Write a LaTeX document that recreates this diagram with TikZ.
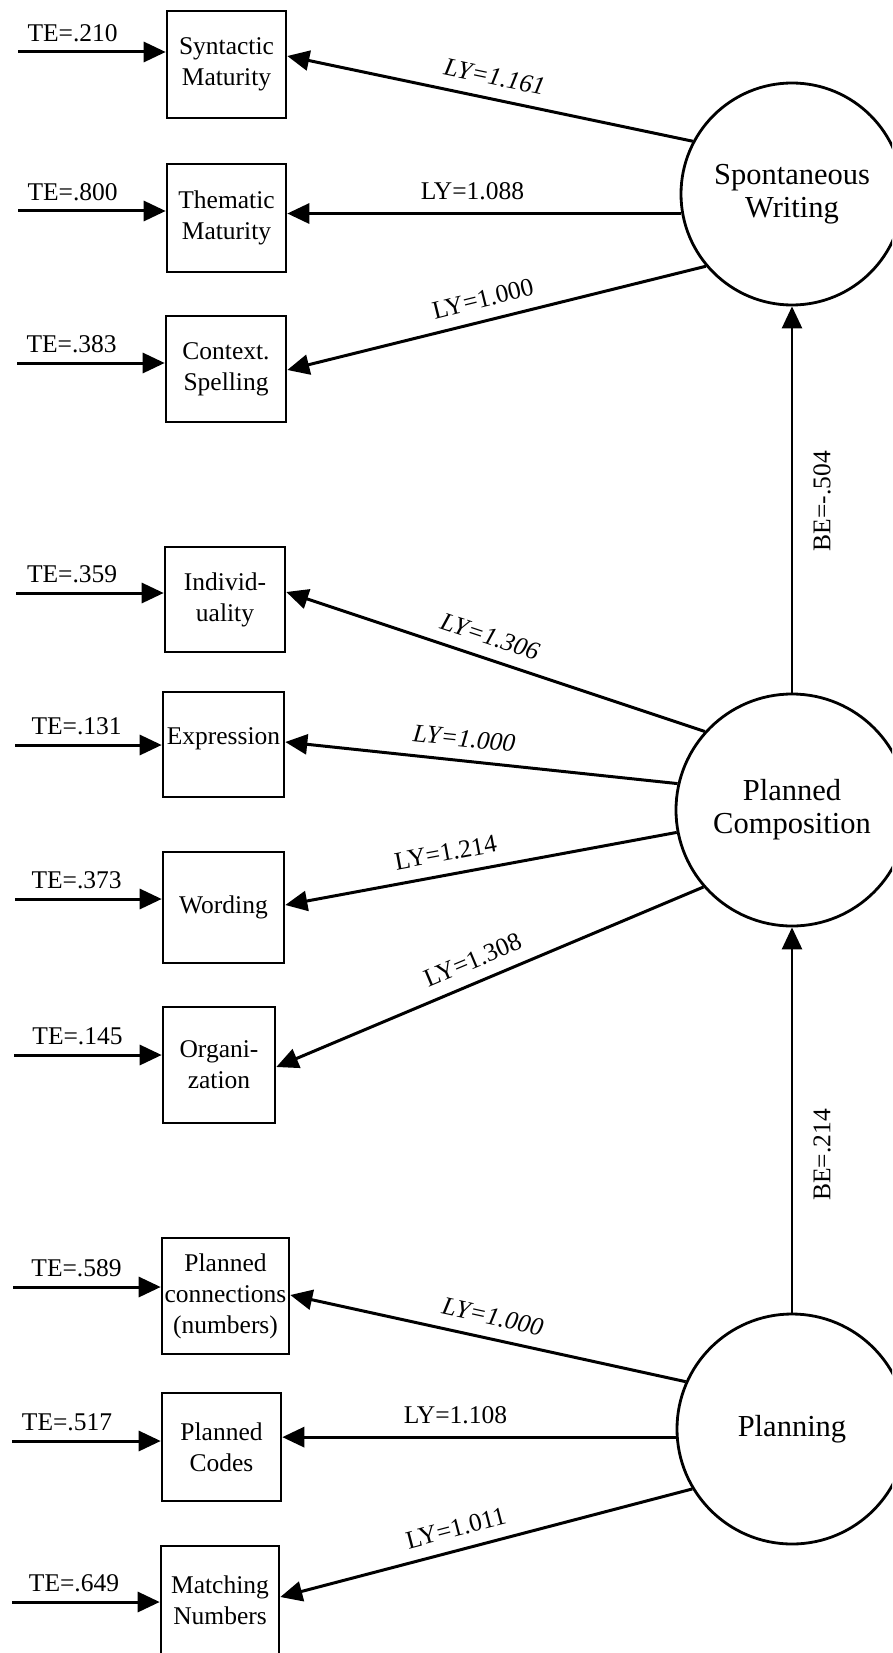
\documentclass[tikz,border=0pt]{standalone}
\usepackage{fontspec}
\setmainfont{Liberation Serif}
\usetikzlibrary{arrows.meta}
\begin{document}
\begin{tikzpicture}[x=1pt,y=-1pt,
  box/.style={draw,line width=2.6pt,inner sep=0pt,align=center,font=\fontsize{25.5}{31}\selectfont},
  lat/.style={draw,circle,line width=2.8pt,inner sep=0pt,align=center,font=\fontsize{30.5}{33}\selectfont},
  arr/.style={line width=3pt,-{Triangle[length=22pt,width=20pt]}},
  varr/.style={line width=2.6pt,-{Triangle[length=22pt,width=20pt]}},
  te/.style={font=\fontsize{25.5}{31}\selectfont,inner sep=0pt,above=9pt},
  ly/.style={sloped,above=12pt,inner sep=0pt,font=\fontsize{25.5}{31}\selectfont},
  lbl/.style={font=\fontsize{25.5}{31}\selectfont,inner sep=0pt}]
\useasboundingbox (0,0) rectangle (892,1653);
\clip (0,0) rectangle (892,1653);

% observed variables
\node[box,minimum width=119pt,minimum height=107pt] (syn) at (226.5,64.5) {Syntactic\\Maturity};
\node[box,minimum width=119pt,minimum height=108pt] (them) at (226.5,218) {Thematic\\Maturity};
\node[box,minimum width=120pt,minimum height=106pt] (ctx) at (226,369) {Context.\\Spelling};
\node[box,minimum width=120pt,minimum height=105pt] (ind) at (225,599.5) {Individ-\\uality};
\node[box,minimum width=121pt,minimum height=105pt] (expr) at (223.5,744.5) {\raisebox{0pt}[0pt][0pt]{Expression}};
\node[box,minimum width=121pt,minimum height=111pt] (word) at (223.5,907.5) {Wording};
\node[box,minimum width=112pt,minimum height=116pt] (org) at (219,1065) {Organi-\\zation};
\node[box,minimum width=127pt,minimum height=116pt] (pconn) at (225.5,1296) {Planned\\connections\\(numbers)};
\node[box,minimum width=119pt,minimum height=108pt] (pcodes) at (221.5,1447) {Planned\\Codes};
\node[box,minimum width=118pt,minimum height=108pt] (match) at (220,1600) {Matching\\Numbers};

% latent variables
\node[lat,minimum size=222pt] (spw) at (792,194) {Spontaneous\\Writing};
\node[lat,minimum size=232pt] (pc) at (792,810) {Planned\\Composition};
\node[lat,minimum size=230pt] (pln) at (792,1429) {Planning};

% error terms
\coordinate (t1) at (18,52);
\coordinate (t2) at (18,211);
\coordinate (t3) at (17,363);
\coordinate (t4) at (16,593);
\coordinate (t5) at (15,745);
\coordinate (t6) at (15,899);
\coordinate (t7) at (14,1055);
\coordinate (t8) at (13,1287);
\coordinate (t9) at (12,1441);
\coordinate (t10) at (12,1602);
\draw[arr] (t1) -- (t1 -| syn.west) node[te,pos=.37] {TE=.210};
\draw[arr] (t2) -- (t2 -| them.west) node[te,pos=.37] {TE=.800};
\draw[arr] (t3) -- (t3 -| ctx.west) node[te,pos=.37] {TE=.383};
\draw[arr] (t4) -- (t4 -| ind.west) node[te,pos=.38] {TE=.359};
\draw[arr] (t5) -- (t5 -| expr.west) node[te,pos=.42] {TE=.131};
\draw[arr] (t6) -- (t6 -| word.west) node[te,pos=.42] {TE=.373};
\draw[arr] (t7) -- (t7 -| org.west) node[te,pos=.43] {TE=.145};
\draw[arr] (t8) -- (t8 -| pconn.west) node[te,pos=.43] {TE=.589};
\draw[arr] (t9) -- (t9 -| pcodes.west) node[te,pos=.37] {TE=.517};
\draw[arr] (t10) -- (t10 -| match.west) node[te,pos=.42] {TE=.649};

% loadings
\draw[arr] (spw.152) -- (syn.east |- 0,56) node[ly,pos=.5] {\itshape LY=1.161};
\draw[arr] (spw.190.8) -- (spw.190.8 -| them.east) node[ly,pos=.53] {LY=1.088};
\draw[arr] (spw.220.3) -- (ctx.east |- 0,370) node[ly,pos=.52] {LY=1.000};
\draw[arr] (pc.138.2) -- (ind.east |- 0,592) node[ly,pos=.53] {\itshape LY=1.306};
\draw[arr] (pc.167) -- (expr.east |- 0,742) node[ly,pos=.55] {\itshape LY=1.000};
\draw[arr] (pc.191.3) -- (word.east |- 0,905) node[ly,pos=.58] {LY=1.214};
\draw[arr] (pc.221.5) -- (org.east |- 0,1067) node[ly,pos=.52] {LY=1.308};
\draw[arr] (pln.156.7) -- (pconn.east |- 0,1295) node[ly,pos=.5] {\itshape LY=1.000};
\draw[arr] (pln.184.6) -- (pln.184.6 -| pcodes.east) node[ly,pos=.56] {LY=1.108};
\draw[arr] (pln.211.6) -- (match.east |- 0,1597) node[ly,pos=.56] {LY=1.011};

% structural paths
\draw[varr] (pc.north) -- (spw.south);
\draw[varr] (pln.north) -- (pc.south);
\node[lbl,rotate=90] (be1) at (822,501) {BE=-.504};
\node[lbl,rotate=90] (be2) at (822,1155) {BE=.214};
\end{tikzpicture}
\end{document}
